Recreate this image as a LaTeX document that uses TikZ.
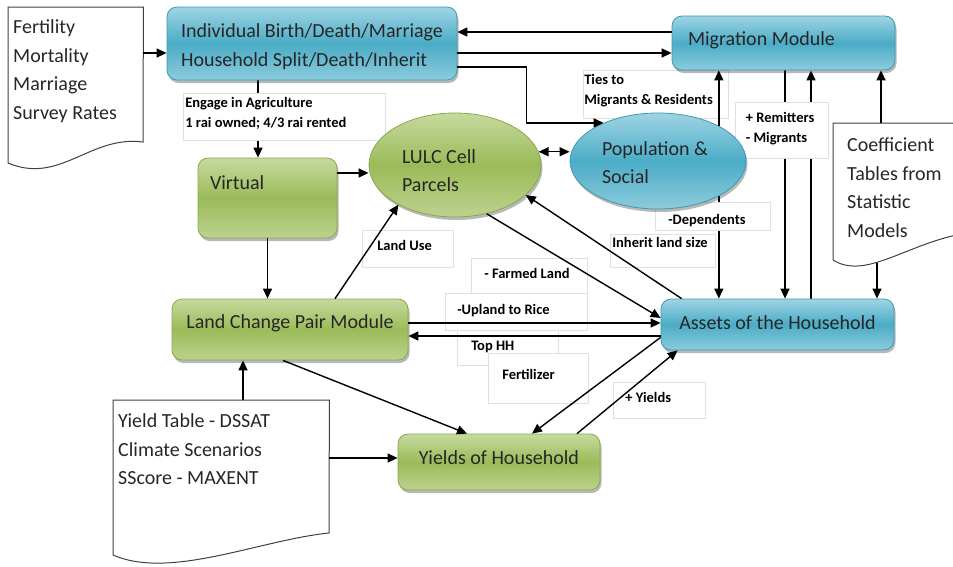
\documentclass[tikz,border=0pt]{standalone}
\usepackage{fontspec}
\setmainfont{Carlito}
\usetikzlibrary{arrows.meta,shapes.geometric,shadows,calc}
\pgfdeclarelayer{back}
\pgfdeclarelayer{mid}
\pgfsetlayers{back,mid,main}
\definecolor{blueL}{HTML}{9FD4E4}
\definecolor{blueM}{HTML}{4BACC6}
\definecolor{blueB}{HTML}{8CCBDC}
\definecolor{blueD}{HTML}{3C9AB3}
\definecolor{greenL}{HTML}{C6DA9E}
\definecolor{greenM}{HTML}{9BBB59}
\definecolor{greenB}{HTML}{BCD28E}
\definecolor{greenD}{HTML}{89A84C}
\newcommand\mainf{\fontsize{20}{28.5}\selectfont}
\newcommand\labf{\fontsize{14.5}{20}\selectfont\bfseries}
\newcommand\myhs[1]{\rule{0pt}{#1}}
\newcommand\myds[1]{\rule[-#1]{0pt}{#1}}
\newcommand\nsp{\spaceskip=0pt\xspaceskip=0pt\relax}
\begin{document}
\begin{tikzpicture}[x=1pt, y=-1pt,
  conn/.style={line width=1.4pt, draw=black},
  arr/.style={conn, -{Triangle[length=10pt,width=9pt]}},
  darr/.style={conn, {Triangle[length=10pt,width=9pt]}-{Triangle[length=10pt,width=9pt]}},
  shadebase/.style={line width=0.8pt, font=\mainf, text=black!85, inner ysep=2pt,
     drop shadow={shadow xshift=1.5pt, shadow yshift=-3pt, opacity=0.35, fill=black!80}},
  bluefill/.style={draw=blueD, top color=blueL, bottom color=blueB, middle color=blueM},
  greenfill/.style={draw=greenD, top color=greenL, bottom color=greenB, middle color=greenM},
  bluebox/.style={shadebase, bluefill, rectangle, rounded corners=10pt},
  greenbox/.style={shadebase, greenfill, rectangle, rounded corners=10pt},
  blueell/.style={shadebase, bluefill, ellipse, inner sep=2pt},
  greenell/.style={shadebase, greenfill, ellipse, inner sep=2pt},
  docnode/.style={anchor=north west, inner ysep=0pt, align=left, font=\mainf, text=black!85},
  docline/.style={draw=black!75, line width=1pt},
  lab/.style={anchor=north west, draw=black!12, line width=0.6pt, fill=white, font=\labf,
     align=left, inner ysep=0pt, text=black},
]
\useasboundingbox (0,0) rectangle (953,566);

% ---------- documents ----------
\node[docnode, text width=125pt, inner xsep=5pt] (fert) at (8,7)
  {\nsp\myhs{26.5pt}Fertility\\Mortality\\Marriage\\Survey Rates};
\draw[docline] (fert.north west) -- (fert.north east) -- ($(fert.north west)+(135,135)$)
  .. controls ($(fert.north west)+(82,128)$) and ($(fert.north west)+(52,178)$) .. ($(fert.north west)+(0,156)$) -- cycle;

\node[docnode, text width=206pt, inner xsep=5pt] (ydoc) at (113,400)
  {\nsp\myhs{27.5pt}Yield Table - DSSAT\\Climate Scenarios\\SScore - MAXENT};
\draw[docline] (ydoc.north west) -- (ydoc.north east) -- ($(ydoc.north west)+(216,133)$)
  .. controls ($(ydoc.north west)+(147,140)$) and ($(ydoc.north west)+(57,180)$) .. ($(ydoc.north west)+(0,155)$) -- cycle;

\node[docnode, text width=100pt, inner xsep=14pt] (coef) at (833,123)
  {\nsp\myhs{28.5pt}Coefficient\\Tables from\\Statistic\\Models};
\draw[docline] (coef.north west) -- (coef.north east) -- ($(coef.north west)+(128,111)$)
  .. controls ($(coef.north west)+(72,122)$) and ($(coef.north west)+(32,157)$) .. ($(coef.north west)+(0,137)$) -- cycle;
\coordinate (coefbot) at ($(coef.north west)+(44,140)$);

% ---------- shapes ----------
\node[bluebox, minimum width=290pt, minimum height=73pt, align=left] (ind) at (312,43.5)
  {\nsp\myhs{20.5pt}Individual Birth/Death/Marriage\\Household Split/Death/Inherit};
\node[bluebox, minimum width=223pt, minimum height=54pt, text width=191pt, inner xsep=16pt, align=left] (mig) at (783.5,43)
  {\nsp Migration Module\myds{9pt}};
\node[greenbox, minimum width=139pt, minimum height=80pt, text width=115pt, inner xsep=12pt, align=left] (virt) at (267.5,198)
  {Virtual\myds{31pt}};
\node[greenell, minimum width=172pt, minimum height=104pt, text width=106pt, align=left] (lulc) at (455,165)
  {\nsp\myhs{25.5pt}LULC Cell\\Parcels};
\node[blueell, minimum width=176pt, minimum height=96pt, text width=112pt, align=left] (pop) at (658,161)
  {\nsp\myhs{17.5pt}Population \&\\Social};
\node[greenbox, minimum width=236pt, minimum height=61pt] (lcp) at (290,329.5)
  {Land Change Pair Module\myds{16pt}};
\node[bluebox, minimum width=233pt, minimum height=51pt] (assets) at (777.5,324.5)
  {Assets of the Household\myds{4pt}};
\node[greenbox, minimum width=202pt, minimum height=56pt] (yields) at (499,462)
  {Yields of Household\myds{9pt}};

% ---------- connectors partly hidden by label boxes ----------
\begin{pgfonlayer}{back}
\draw[arr] ([xshift=-54pt]ind.south) -- ([xshift=-54pt]ind.south |- virt.north);
\draw[arr] (pop.-30) -- (pop.-30 |- assets.north);
\draw[arr] ([xshift=1.5pt]mig.south) -- ([xshift=1.5pt]mig.south |- assets.north);
\draw[arr] ([xshift=27.5pt]mig.south |- assets.north) -- ([xshift=27.5pt]mig.south);
\end{pgfonlayer}

% ---------- label boxes ----------
\begin{pgfonlayer}{mid}
\node[lab, minimum width=202pt, minimum height=47pt, text width=198pt, inner xsep=2pt] (leng) at (183,93)
  {\nsp Engage in Agriculture\\1 rai owned; 4/3 rai rented\myds{8.1pt}};
\node[lab, minimum width=145pt, minimum height=48pt, text width=143pt, inner xsep=1pt] (lties) at (583,70)
  {\nsp Ties to\\Migrants \& Residents\myds{9.1pt}};
\node[lab, minimum width=93pt, minimum height=56pt, text width=72pt, inner xsep=10.5pt] (lrem) at (735,102)
  {\nsp + Remitters\\- Migrants\myds{5.1pt}};
\node[lab, minimum width=115pt, minimum height=28pt, text width=89pt, inner xsep=13pt] (ldep) at (655,202)
  {\nsp\myhs{18.4pt}-Dependents};
\node[lab, minimum width=105pt, minimum height=33pt, text width=101pt, inner xsep=2pt] (linh) at (610,234)
  {\nsp Inherit land size\myds{16.1pt}};
\node[lab, minimum width=91pt, minimum height=37pt, text width=61pt, inner xsep=15pt] (lland) at (362,230)
  {\nsp Land Use\myds{6.1pt}};
\node[lab, minimum width=116pt, minimum height=35pt, text width=90pt, inner xsep=13pt] (lfarm) at (471,258)
  {\nsp - Farmed Land\myds{4.1pt}};
\node[lab, minimum width=142pt, minimum height=37pt, text width=118pt, inner xsep=12pt] (lup) at (445,293)
  {\nsp -Upland to Rice\myds{4.1pt}};
\node[lab, minimum width=101pt, minimum height=35pt, text width=73pt, inner xsep=14pt] (ltop) at (457,330)
  {\nsp Top HH\myds{4.1pt}};
\node[lab, minimum width=100pt, minimum height=50pt, text width=72pt, inner xsep=14pt] (lfer) at (488,353)
  {Fertilizer\myds{7.1pt}};
\node[lab, minimum width=92pt, minimum height=36pt, text width=68pt, inner xsep=12pt] (lyl) at (613,382)
  {\nsp + Yields\myds{5.1pt}};
\end{pgfonlayer}

% ---------- other connectors ----------
\draw[arr] ([yshift=-46pt]fert.north east) -- ([yshift=-46pt]fert.north east -| ind.west);
\draw[arr] ([yshift=11pt]mig.west) -- ([yshift=11pt]mig.west -| ind.east);
\draw[arr] ([yshift=-9.5pt]ind.east) -- ([yshift=-9.5pt]ind.east -| mig.west);
\draw[arr] ([yshift=-23.5pt]ind.east) -| ([xshift=-77pt]pop.145) -- (pop.145);
\draw[arr] (pop.30) -- (pop.30 |- mig.south);
\draw[darr] (lulc.9) -- (lulc.9 -| pop.west);
\draw[arr] ([yshift=25pt]virt.east) -- ([yshift=25pt]virt.east -| lulc.west);
\draw[arr] (virt.south) -- (lcp.north -| virt.south);
\draw[arr] ([xshift=45pt]lcp.north) -- (lulc.215);
\draw[arr] (lulc.-57) -- ([yshift=6.5pt]assets.west);
\draw[arr] ([xshift=21pt]assets.north west) -- (lulc.-23);
\draw[arr] ([xshift=48pt]coef.north west) -- ([xshift=48pt]coef.north west |- mig.south);
\draw[arr] (coefbot) -- (coefbot |- assets.north);
\draw[arr] ([yshift=6.5pt]lcp.east) -- ([yshift=6.5pt]lcp.east -| assets.west);
\draw[arr] ([yshift=-6.5pt]lcp.east -| assets.west) -- ([yshift=-6.5pt]lcp.east);
\draw[arr] ([xshift=-7pt]lcp.south) -- ([xshift=-32pt]yields.north);
\draw[arr] ([yshift=13pt]assets.south west) -- ([xshift=33pt]yields.north);
\draw[arr] ([xshift=78pt]yields.north) -- ([xshift=17pt]assets.south west);
\draw[arr] ([xshift=130pt]ydoc.north west) -- ([xshift=130pt]ydoc.north west |- lcp.south);
\draw[arr] ([yshift=-58pt]ydoc.north east) -- ([yshift=-58pt]ydoc.north east -| yields.west);
\end{tikzpicture}
\end{document}
